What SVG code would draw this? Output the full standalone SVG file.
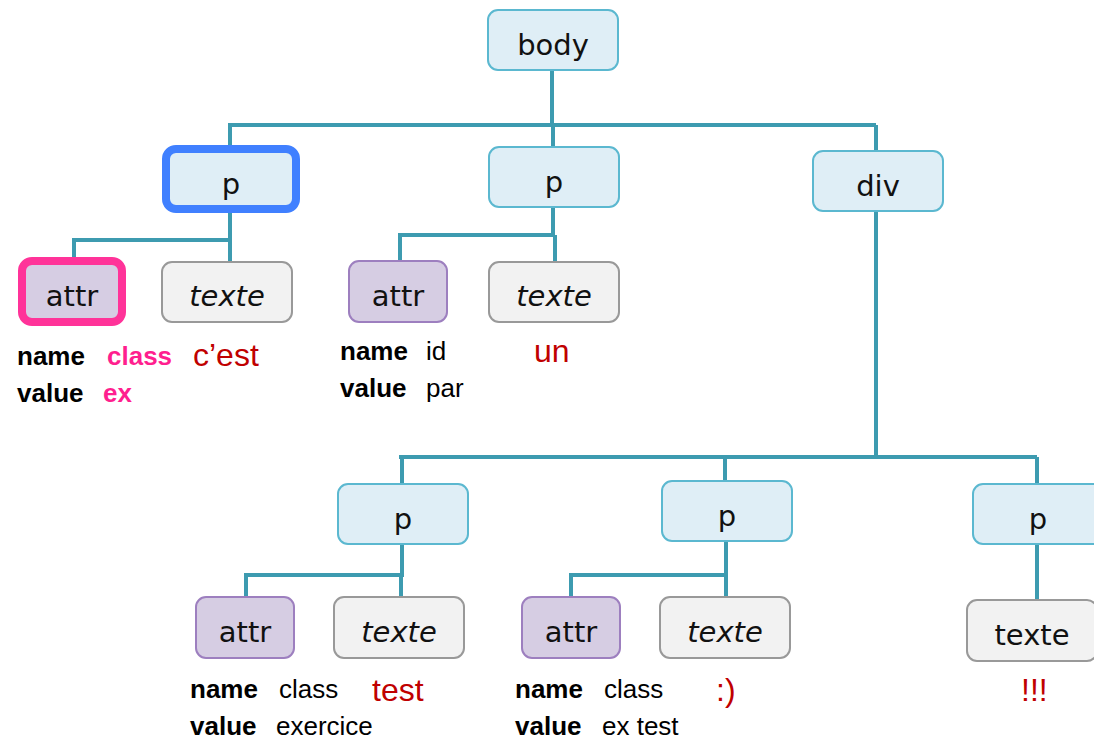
<svg xmlns="http://www.w3.org/2000/svg" width="1094" height="740" viewBox="0 0 1094 740">
<style>
.el{fill:#dfeef6;stroke:#5bb8d0;stroke-width:2}
.at{fill:#d6cde3;stroke:#9d7fbf;stroke-width:2}
.tx{fill:#f2f2f2;stroke:#999;stroke-width:2}
.lbl{font-family:"DejaVu Sans","Liberation Sans",sans-serif;font-size:29px;fill:#111;text-anchor:middle}
.it{font-style:italic}
.b{font-family:"Liberation Sans",sans-serif;font-size:26px;font-weight:bold;fill:#000}
.n{font-family:"Liberation Sans",sans-serif;font-size:26px;fill:#000}
.pk{fill:#ff1f8f}
.red{font-family:"Liberation Sans",sans-serif;font-size:32px;fill:#c00000}
.ln{fill:none;stroke:#3d9bb0;stroke-width:4}
</style>
<rect width="1094" height="740" fill="#fff"/>
<g id="connectors">
<path class="ln" d="M552 70V125M228 125H876M230 125V147M553 125V147M876 125V151"/>
<path class="ln" d="M230 213V240H74V258M230 240V262"/>
<path class="ln" d="M553 207V235H400V261M555 235V262"/>
<path class="ln" d="M876 211V457M399 457H1037M402 457V484M725 457V481M1037 457V484"/>
<path class="ln" d="M402 544V575H246V597M401 575V597"/>
<path class="ln" d="M726 541V575H571V597M726 575V597"/>
<path class="ln" d="M1037 544V600"/>
</g>
<g id="body"><rect class="el" x="488" y="10" width="130" height="60" rx="10"/><text class="lbl" x="553" y="55">body</text></g>
<g id="p1"><rect class="el" x="166" y="149" width="130" height="60" rx="10" style="stroke:#4080ff;stroke-width:8"/><text class="lbl" x="231" y="194">p</text></g>
<g id="p2"><rect class="el" x="489" y="147" width="130" height="60" rx="10"/><text class="lbl" x="554" y="192">p</text></g>
<g id="div"><rect class="el" x="813" y="151" width="130" height="60" rx="10"/><text class="lbl" x="878" y="196">div</text></g>
<g id="attr1"><rect class="at" x="22" y="261" width="100" height="61" rx="10" style="stroke:#ff3399;stroke-width:8"/><text class="lbl" x="72" y="306">attr</text>
<text x="17" y="365"><tspan class="b">name</tspan><tspan class="b pk" x="107">class</tspan></text>
<text x="17" y="402"><tspan class="b">value</tspan><tspan class="b pk" x="103">ex</tspan></text></g>
<g id="texte1"><rect class="tx" x="162" y="262" width="130" height="60" rx="10"/><text class="lbl it" x="227" y="306">texte</text><text class="red" x="193" y="366">c’est</text></g>
<g id="attr2"><rect class="at" x="349" y="261" width="98" height="61" rx="10"/><text class="lbl" x="398" y="306">attr</text>
<text x="340" y="360"><tspan class="b">name</tspan><tspan class="n" x="426">id</tspan></text>
<text x="340" y="397"><tspan class="b">value</tspan><tspan class="n" x="426">par</tspan></text></g>
<g id="texte2"><rect class="tx" x="489" y="262" width="130" height="60" rx="10"/><text class="lbl it" x="554" y="306">texte</text><text class="red" x="534" y="362">un</text></g>
<g id="p3"><rect class="el" x="338" y="484" width="130" height="60" rx="10"/><text class="lbl" x="403" y="529">p</text></g>
<g id="p4"><rect class="el" x="662" y="481" width="130" height="60" rx="10"/><text class="lbl" x="727" y="526">p</text></g>
<g id="p5"><rect class="el" x="973" y="484" width="130" height="60" rx="10"/><text class="lbl" x="1038" y="529">p</text></g>
<g id="attr3"><rect class="at" x="196" y="597" width="98" height="61" rx="10"/><text class="lbl" x="245" y="642">attr</text>
<text x="190" y="698"><tspan class="b">name</tspan><tspan class="n" x="279">class</tspan></text>
<text x="190" y="735"><tspan class="b">value</tspan><tspan class="n" x="276">exercice</tspan></text></g>
<g id="texte3"><rect class="tx" x="334" y="597" width="130" height="61" rx="10"/><text class="lbl it" x="399" y="642">texte</text><text class="red" x="372" y="701">test</text></g>
<g id="attr4"><rect class="at" x="522" y="597" width="98" height="61" rx="10"/><text class="lbl" x="571" y="642">attr</text>
<text x="515" y="698"><tspan class="b">name</tspan><tspan class="n" x="604">class</tspan></text>
<text x="515" y="735"><tspan class="b">value</tspan><tspan class="n" x="602">ex test</tspan></text></g>
<g id="texte4"><rect class="tx" x="660" y="597" width="130" height="61" rx="10"/><text class="lbl it" x="725" y="642">texte</text><text class="red" x="716" y="701">:)</text></g>
<g id="texte5"><rect class="tx" x="967" y="600" width="130" height="61" rx="10"/><text class="lbl" x="1032" y="645">texte</text><text class="red" x="1021" y="701">!!!</text></g>
</svg>
